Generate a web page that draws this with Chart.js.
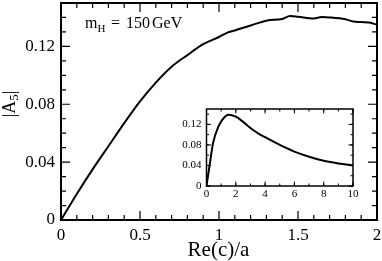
<!DOCTYPE html>
<html>
<head>
<meta charset="utf-8">
<script src="https://cdn.jsdelivr.net/npm/chart.js@4.4.1/dist/chart.umd.min.js"></script>
<style>
  html, body { margin: 0; padding: 0; background: #fff; }
  #wrap { position: relative; width: 382px; height: 261px; }
  #main { position: absolute; left: 0; top: 0; }
  #inset { position: absolute; left: 180px; top: 104px; }
</style>
</head>
<body>
<div id="wrap">
  <canvas id="main" width="382" height="261"></canvas>
  <canvas id="inset" width="180" height="98"></canvas>
</div>
<script>
// main panel: |A5| vs Re(c)/a, 0..2
const mainX = [0, 0.1, 0.2, 0.3, 0.4, 0.5, 0.6, 0.7, 0.8, 0.9, 1.0, 1.05, 1.1, 1.2, 1.3, 1.4, 1.45, 1.5, 1.6, 1.65, 1.7, 1.8, 1.85, 1.9, 1.95, 2.0];
const mainY = [0, 0.018, 0.035, 0.051, 0.067, 0.082, 0.095, 0.106, 0.114, 0.1215, 0.1265, 0.1294, 0.131, 0.1345, 0.1378, 0.139, 0.141, 0.1405, 0.1393, 0.1403, 0.140, 0.1387, 0.1372, 0.1368, 0.1365, 0.135];

// inset: same curve out to 10
const insetX = [0, 0.2, 0.45, 0.8, 1.1, 1.5, 2, 2.5, 3, 3.5, 4, 5, 6, 7, 8, 9, 10];
const insetY = [0, 0.038, 0.084, 0.115, 0.130, 0.139, 0.135, 0.125, 0.113, 0.103, 0.095, 0.080, 0.067, 0.057, 0.049, 0.044, 0.040];

const mainXTicks = [0, 0.5, 1, 1.5, 2];
const mainYTicks = [0, 0.04, 0.08, 0.12];
const insetXTicks = [0, 2, 4, 6, 8, 10];
const insetYTicks = [0, 0.04, 0.08, 0.12];

const serif = 'Liberation Serif';

function range(min, max, step) {
    const out = [];
    for (let i = 0; min + i * step <= max + 1e-9; i++) out.push(min + i * step);
    return out;
}

// inward ticks on all four sides + box frame
function frameTicks(cfg) {
    return {
        id: 'frameTicks',
        afterDraw(chart) {
            const { ctx, chartArea: a, scales: { x, y } } = chart;
            ctx.save();
            ctx.strokeStyle = '#000';
            ctx.lineWidth = cfg.tickWidth;
            ctx.beginPath();
            const xMarks = (vals, len) => vals.forEach(v => {
                const px = x.getPixelForValue(v);
                ctx.moveTo(px, a.bottom); ctx.lineTo(px, a.bottom - len);
                ctx.moveTo(px, a.top); ctx.lineTo(px, a.top + len);
            });
            const yMarks = (vals, len) => vals.forEach(v => {
                const py = y.getPixelForValue(v);
                ctx.moveTo(a.left, py); ctx.lineTo(a.left + len, py);
                ctx.moveTo(a.right, py); ctx.lineTo(a.right - len, py);
            });
            xMarks(range(x.min, x.max, cfg.xMinor), cfg.minorLen);
            xMarks(cfg.xMajor, cfg.majorLen);
            yMarks(range(y.min, y.max, cfg.yMinor), cfg.minorLen);
            yMarks(cfg.yMajor, cfg.majorLen);
            ctx.stroke();
            ctx.lineWidth = cfg.frameWidth;
            ctx.strokeRect(a.left, a.top, a.width, a.height);
            ctx.restore();
        }
    };
}

const mainLabels = {
    id: 'mainLabels',
    afterDraw(chart) {
        const ctx = chart.ctx;
        ctx.save();
        ctx.fillStyle = '#000';
        ctx.textBaseline = 'alphabetic';

        // x title
        ctx.font = '21px "' + serif + '"';
        ctx.textAlign = 'center';
        ctx.fillText('Re(c)/a', 218.5, 256);

        // y title |A5|, rotated
        ctx.textAlign = 'left';
        const big = '18px "' + serif + '"', small = '13px "' + serif + '"';
        ctx.font = big;
        const w1 = ctx.measureText('|A').width, w3 = ctx.measureText('|').width;
        ctx.font = small;
        const w2 = ctx.measureText('5').width;
        const total = w1 + w2 + w3;
        ctx.translate(15, 104);
        ctx.rotate(-Math.PI / 2);
        ctx.font = big;
        ctx.fillText('|A', -total / 2, 0);
        ctx.font = small;
        ctx.fillText('5', -total / 2 + w1, 3);
        ctx.font = big;
        ctx.fillText('|', -total / 2 + w1 + w2, 0);
        ctx.setTransform(1, 0, 0, 1, 0, 0);

        // annotation m_H = 150 GeV
        ctx.font = '16px "' + serif + '"';
        ctx.fillText('m', 85, 28);
        ctx.font = '11px "' + serif + '"';
        ctx.fillText('H', 97.5, 32);
        ctx.font = '16px "' + serif + '"';
        ctx.fillText('=', 111, 28);
        ctx.fillText('150', 126, 28);
        ctx.fillText('GeV', 152, 28);
        ctx.restore();
    }
};

function pts(xs, ys) {
    return xs.map((x, i) => ({ x: x, y: ys[i] }));
}

function axis(min, max, ticks, size, pad, fitFn) {
    return {
        type: 'linear',
        min: min,
        max: max,
        grid: { display: false, drawTicks: false },
        border: { display: false },
        afterBuildTicks: s => { s.ticks = ticks.map(v => ({ value: v })); },
        afterFit: fitFn,
        ticks: {
            font: { family: serif, size: size },
            color: '#000',
            padding: pad,
            maxRotation: 0,
            autoSkip: false,
            callback: v => String(v)
        }
    };
}

new Chart(document.getElementById('main'), {
    type: 'scatter',
    data: {
        datasets: [{
            data: pts(mainX, mainY),
            showLine: true,
            borderColor: '#000',
            borderWidth: 2,
            pointRadius: 0,
            cubicInterpolationMode: 'monotone',
            fill: false
        }]
    },
    options: {
        responsive: false,
        animation: false,
        layout: { padding: { top: 3, right: 5, left: 0, bottom: 0 } },
        plugins: { legend: { display: false }, tooltip: { enabled: false } },
        scales: {
            x: axis(0, 2, mainXTicks, 17, 5, s => { s.height = 41; s.paddingLeft = 0; s.paddingRight = 0; }),
            y: axis(0, 0.15, mainYTicks, 17, 6, s => { s.width = 61; s.paddingTop = 0; s.paddingBottom = 0; })
        }
    },
    plugins: [frameTicks({
        xMajor: mainXTicks, yMajor: mainYTicks, xMinor: 0.1, yMinor: 0.01,
        majorLen: 9, minorLen: 5, tickWidth: 1.2, frameWidth: 2
    }), mainLabels]
});

new Chart(document.getElementById('inset'), {
    type: 'scatter',
    data: {
        datasets: [{
            data: pts(insetX, insetY),
            showLine: true,
            borderColor: '#000',
            borderWidth: 2,
            pointRadius: 0,
            cubicInterpolationMode: 'monotone',
            fill: false
        }]
    },
    options: {
        responsive: false,
        animation: false,
        layout: { padding: { top: 5, right: 7, left: 0, bottom: 0 } },
        plugins: { legend: { display: false }, tooltip: { enabled: false } },
        scales: {
            x: axis(0, 10, insetXTicks, 11, 2, s => { s.height = 16; s.paddingLeft = 0; s.paddingRight = 0; }),
            y: axis(0, 0.15, insetYTicks, 11, 5, s => { s.width = 26.5; s.paddingTop = 0; s.paddingBottom = 0; })
        }
    },
    plugins: [frameTicks({
        xMajor: insetXTicks, yMajor: insetYTicks, xMinor: 1, yMinor: 0.02,
        majorLen: 4.5, minorLen: 2.5, tickWidth: 1, frameWidth: 1.5
    })]
});
</script>
</body>
</html>
